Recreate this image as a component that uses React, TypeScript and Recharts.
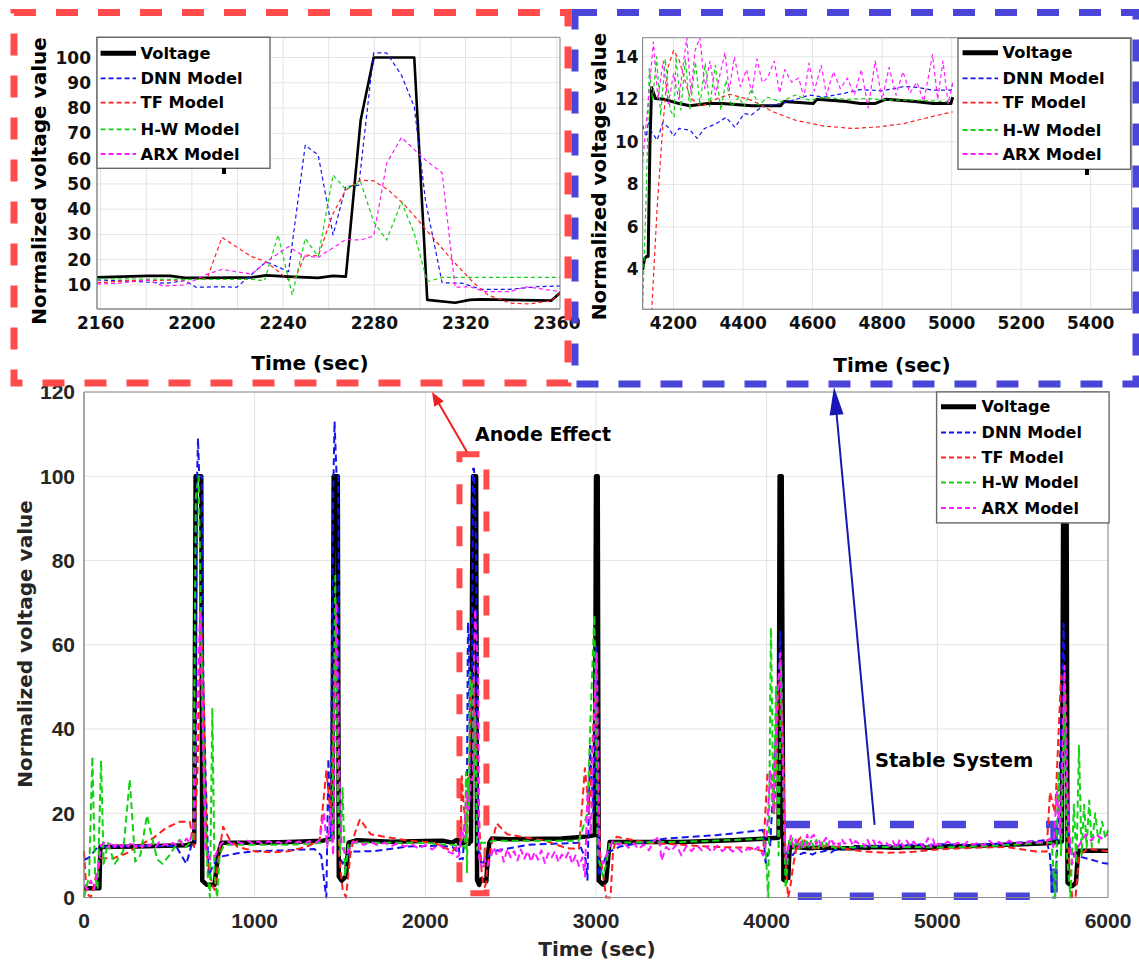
import React from 'react';
import { LineChart, Line, XAxis, YAxis, CartesianGrid, ReferenceArea } from 'recharts';

type P = [number, number];

// ---------- series meta ----------
const seriesNames = ['Voltage', 'DNN Model', 'TF Model', 'H-W Model', 'ARX Model'];
const seriesColors = ['#000000', '#1414ee', '#ff2020', '#12d212', '#ff1cff'];

// ---------- tick labels ----------
const mainXTicks = [0, 1000, 2000, 3000, 4000, 5000, 6000];
const mainYTicks = [0, 20, 40, 60, 80, 100, 120];
const tlXTicks = [2160, 2180, 2200, 2220, 2240, 2260, 2280, 2300, 2320, 2340, 2360];
const tlYTicks = [10, 20, 30, 40, 50, 60, 70, 80, 90, 100];
const trXTicks = [4200, 4400, 4600, 4800, 5000, 5200, 5400];
const trYTicks = [4, 6, 8, 10, 12, 14];

// ---------- top-left inset (anode effect, 2158-2362 s) ----------
const tlVoltage: P[] = [[2158.4,13.0],[2169.4,13.3],[2180.8,13.6],[2190.5,13.6],[2197,12.8],[2206.7,12.8],[2226.2,13.0],[2232.6,13.8],[2242.4,13.3],[2255.4,12.8],[2261.9,13.6],[2267.5,13.3],[2274,75.2],[2279.7,100],[2297.5,100],[2303.2,4.1],[2315.4,3.0],[2321.8,4.1],[2326.7,4.3],[2357.5,3.8],[2361.6,7.0]];
const tlDnn: P[] = [[2158.4,12.0],[2177.5,11.3],[2188.9,10.7],[2197,11.7],[2201.8,9.1],[2213.2,9.3],[2219.7,9.1],[2232.6,19.2],[2242.4,15.3],[2249.7,65.3],[2255.4,61.4],[2261.9,29.8],[2267.5,48.9],[2273.2,49.5],[2279.7,101.8],[2285.4,101.8],[2291.9,93],[2297.5,80.5],[2302.4,43.6],[2309.7,10.9],[2318.6,10.7],[2326.7,8.3],[2339.7,8.3],[2351,9.3],[2361.6,9.6]];
const tlTf: P[] = [[2158.4,10.9],[2172.6,11.7],[2197,12.0],[2206.7,12.6],[2213.2,28.8],[2226.2,21.2],[2232.6,19.2],[2242.4,12.0],[2245.6,13.3],[2249.7,21.9],[2255.4,21.5],[2261.9,38.3],[2267.5,47.6],[2274,51.5],[2279.7,51.2],[2286.1,47.6],[2292.6,42.3],[2299.1,35.7],[2307.2,27.1],[2315.4,18.6],[2323.5,10.9],[2329.9,6.0],[2339.7,2.8],[2347.8,2.5],[2357.5,3.7],[2361.6,7.0]];
const tlHw: P[] = [[2158.4,12.5],[2197,12.2],[2226.2,12.2],[2231.8,11.7],[2237.8,29.8],[2244,6.0],[2249.7,28.4],[2255.4,21.2],[2261.9,53.5],[2267.5,47.8],[2274,50.8],[2279.7,35],[2285.4,27.8],[2291.9,42.9],[2297.5,30.4],[2303.2,11.3],[2309.7,13],[2361.6,13]];
const tlArx: P[] = [[2158.4,10.4],[2167.8,10.7],[2180.8,12.0],[2187.3,9.6],[2197,10],[2206.7,14.3],[2213.2,16.2],[2226.2,14.3],[2232.6,19.2],[2242.4,25.2],[2248.9,21.5],[2255.4,20.9],[2267.5,28],[2274,27.8],[2279.7,29.4],[2285.4,58.1],[2291.9,68.4],[2302.4,59.4],[2309.7,54.4],[2315.4,9.1],[2321.8,9.3],[2328.3,7.4],[2339.7,7.4],[2346.2,9.3],[2361.6,7.4]];

// ---------- top-right inset (stable system, 4111-5003 s) ----------
const trVoltage: P[] = [[4111,3.97],[4116.5,4.5],[4122,4.6],[4127,4.6],[4132,9.8],[4137,12.56],[4148,12.04],[4174,12.0],[4216,11.8],[4247,11.7],[4299,11.8],[4341,11.8],[4424,11.7],[4508,11.7],[4518,11.9],[4602,11.8],[4612,12.0],[4696,11.9],[4737,11.8],[4779,11.8],[4810,12.0],[4894,11.9],[4946,11.8],[4998,11.8],[5003,12.1]];
const trDnn: P[] = [[4111,10.79],[4122,10.24],[4127,10.94],[4137,10.47],[4153,10.08],[4169,10.9],[4184,10.7],[4200,10.27],[4216,10.63],[4247,10.55],[4268,10.16],[4289,10.63],[4320,10.83],[4351,11.15],[4377,10.68],[4403,11.33],[4424,11.26],[4456,11.68],[4487,11.73],[4529,11.88],[4591,12.2],[4633,12.1],[4696,12.3],[4737,12.46],[4800,12.4],[4863,12.6],[4904,12.56],[4946,12.43],[4998,12.43],[5003,12.67]];
const trTf: P[] = [[4137,2.0],[4153,6.95],[4169,10.7],[4184,13.5],[4200,14.3],[4216,13.85],[4247,12.1],[4278,11.65],[4320,12.0],[4362,12.24],[4424,11.96],[4487,11.41],[4550,11.02],[4633,10.74],[4716,10.63],[4789,10.7],[4863,10.86],[4946,11.2],[5003,11.41]];
const trHw: P[] = [[4111,2.1],[4122,7.9],[4130,13.45],[4140,11.96],[4151,14.0],[4163,11.26],[4176,13.9],[4190,11.5],[4202,11.18],[4207,14.0],[4221,11.5],[4234,13.9],[4247,11.5],[4263,13.76],[4276,11.73],[4291,13.69],[4304,11.65],[4320,13.6],[4336,11.5],[4351,12.9],[4367,11.65],[4388,12.1],[4403,11.65],[4424,12.5],[4445,11.73],[4471,12.1],[4508,11.88],[4550,12.2],[4591,11.96],[4633,12.1],[4696,12.0],[4758,12.04],[4821,11.96],[4894,11.96],[4998,11.88]];
const trArx: P[] = [[4111,9.0],[4125,11.5],[4142,14.7],[4155,12.0],[4170,13.8],[4185,11.8],[4200,13.2],[4215,12.0],[4238,14.9],[4250,12.3],[4262,14.3],[4276,14.9],[4290,12.5],[4305,13.8],[4320,12.2],[4348,14.2],[4360,12.4],[4375,14.0],[4392,12.6],[4410,13.4],[4425,12.3],[4440,13.9],[4455,12.8],[4470,13.0],[4490,13.8],[4505,12.3],[4520,13.4],[4540,12.8],[4560,13.0],[4575,12.1],[4590,13.7],[4605,12.4],[4625,13.6],[4640,12.2],[4660,13.3],[4680,12.5],[4700,13.0],[4720,12.2],[4740,13.4],[4760,11.6],[4780,13.8],[4800,12.0],[4820,13.5],[4840,12.2],[4860,13.3],[4880,12.3],[4900,12.8],[4920,11.9],[4945,14.1],[4960,12.0],[4975,13.8],[4990,11.8],[5003,12.8]];

// ---------- main chart, remaining segments ----------
const voltageA: P[] = [[0,2.2],[90,2.2],[96,12],[300,12.1],[600,12.4],[646,13],[654,100],[687,100],[693,4],[720,3],[765,3],[785,10],[805,13],[1000,13],[1200,13.2],[1400,13.5],[1455,14],[1463,100],[1487,100],[1493,5],[1510,4],[1535,5],[1550,13],[1600,13.6],[1800,13.25],[2000,13.4],[2100,13.5]];
const voltageB: P[] = [[2375,13],[2390,14],[2500,13.8],[2800,14],[2950,14.5],[2993,14.8],[3000,100],[3010,100],[3016,4],[3040,3.1],[3060,4],[3080,13.2],[3300,13.2],[3500,13.2],[3800,13.6],[4000,14],[4070,14.2],[4076,100],[4088,100],[4098,4.2]];
const voltageC: P[] = [[5200,12.2],[5400,12.5],[5640,12.9],[5730,13.3],[5738,100],[5757,100],[5763,3.5],[5790,2.7],[5812,3.5],[5825,11.1],[6000,11.1]];

const dnnA: P[] = [[0,8.9],[30,9.5],[80,12],[300,12.2],[540,12.2],[570,10],[600,8],[630,12.5],[650,13],[660,95],[668,109],[675,100],[690,100],[700,50],[712,30],[730,5],[760,8],[800,9.7],[900,10.5],[1000,11],[1200,11.2],[1350,11.5],[1390,10],[1410,3],[1420,0],[1432,33],[1445,14],[1460,95],[1468,113],[1480,100],[1490,100],[1497,10],[1515,8],[1560,10.9],[1700,11],[1900,12.1],[2100,12.3]];
const dnnB: P[] = [[2400,11],[2600,12.5],[2900,13],[2940,9],[2950,4.2],[2965,36],[2985,20],[3000,60],[3015,5],[3060,10],[3082,10.9],[3140,12.1],[3410,14],[3705,14.8],[3978,16],[3994,8.2],[4020,12],[4050,35],[4080,63],[4095,40],[4105,10]];
const dnnC: P[] = [[5200,12.5],[5400,12.8],[5640,13.6],[5660,10],[5675,0],[5690,0],[5705,15],[5725,40],[5740,65],[5755,30],[5775,12],[5800,10],[5835,9.7],[5900,9],[5970,8.2],[6000,8]];

const tfA: P[] = [[0,11],[15,1],[40,0],[70,5],[100,9.3],[170,9.3],[250,10.5],[330,12.5],[405,14.1],[480,16.5],[562,18],[620,18],[645,12],[665,30],[685,67],[700,50],[720,10],[750,3],[765,1.8],[790,10],[815,16.8],[850,14],[900,12],[1000,11],[1100,10.7],[1200,11],[1300,12],[1380,13.5],[1420,30],[1445,20],[1478,62],[1495,10],[1515,2],[1535,0],[1560,10],[1585,15],[1617,18.6],[1680,15],[1750,14.5],[1900,13.5],[2050,13],[2130,11.5]];
const tfB: P[] = [[2390,13],[2418,17.6],[2480,15],[2550,14.5],[2700,13.5],[2830,11.7],[2900,11.5],[2935,30.7],[2960,20],[2995,50],[3025,10],[3060,0],[3085,0],[3100,11],[3120,14.4],[3300,13],[3500,12.5],[3700,12],[3900,11.8],[3980,11],[4005,29.6],[4030,29],[4045,20],[4070,50],[4082,53.5],[4100,30],[4110,10],[4125,0]];
const tfC: P[] = [[5200,11.8],[5400,12],[5580,10.9],[5640,10.9],[5660,25],[5690,20],[5725,52.6],[5750,50],[5770,10],[5790,0],[5810,0],[5830,10],[5880,11.5],[6000,11]];

const hwA: P[] = [[0,0],[30,5],[49,33.5],[65,5],[80,2],[100,32.5],[115,8],[140,13],[180,8],[230,11],[268,28],[300,8.5],[330,10],[369,19.5],[400,14],[430,9],[460,8],[500,10],[560,13.7],[600,12],[640,14],[655,95],[672,100],[688,60],[705,25],[725,5],[738,0],[752,45],[765,5],[780,0],[795,10],[820,12.5],[1000,12.5],[1200,12.5],[1400,13],[1455,14],[1472,77],[1487,25],[1500,10],[1515,26],[1530,5],[1550,13],[1700,13],[2000,13],[2130,12.5]];
const hwB: P[] = [[2400,13.5],[2900,13.5],[2950,20],[2970,45],[2990,67],[3010,10],[3040,5],[3060,8],[3080,13],[3500,13.2],[3900,13.8],[3990,14],[4010,0],[4025,64],[4040,20],[4055,50],[4070,10],[4085,55],[4100,20]];
const hwC: P[] = [[5300,12.2],[5640,13],[5670,13],[5690,0],[5710,30],[5725,10],[5745,50],[5760,10],[5780,0],[5800,22],[5815,8],[5830,36],[5845,10],[5860,22],[5875,12],[5890,23],[5905,12],[5925,20],[5945,13],[5965,18],[5985,14],[6000,16]];

const arxA: P[] = [[0,3],[20,2],[40,4],[60,2],[80,6],[100,12.5],[120,13],[140,11.8],[160,13.2],[180,12],[200,13],[220,11.9],[240,12.9],[260,12.1],[280,13.3],[300,12],[320,12.8],[340,11.9],[360,13],[380,12.2],[400,12.8],[420,12],[440,13.1],[460,12.3],[480,12.7],[500,12.1],[520,13],[540,12.4],[560,13.5],[580,12.5],[600,14],[620,13],[640,17],[660,40],[680,68],[695,40],[710,12],[740,9],[770,10],[790,12],[810,13],[840,13.4],[870,12.6],[900,13.2],[930,12.8],[960,13.5],[990,12.7],[1020,13.3],[1050,12.6],[1080,13.4],[1110,12.8],[1140,13.2],[1170,12.6],[1200,13.5],[1230,12.9],[1260,13.3],[1290,12.7],[1320,13.4],[1350,12.8],[1380,13.6],[1405,20],[1425,12],[1445,21],[1460,10],[1480,70],[1495,30],[1510,12],[1540,10],[1570,13],[1600,13.3],[1640,12.5],[1680,13.2],[1720,12.4],[1760,13],[1800,12.2],[1840,12.9],[1880,12.1],[1920,12.7],[1960,11.6],[2000,12.5],[2040,11.4],[2080,12.6],[2120,11.2]];
const arxB: P[] = [[2380,9],[2400,12],[2420,10],[2440,11.5],[2460,8.5],[2480,11.5],[2500,9.5],[2520,11],[2540,8.8],[2560,11.4],[2580,9.2],[2600,11],[2620,8.5],[2640,10.8],[2660,9],[2680,11.2],[2700,8.2],[2720,10.5],[2740,9.5],[2760,11],[2780,8.4],[2800,10.2],[2820,9.2],[2840,10.8],[2860,8],[2880,10],[2900,7.5],[2920,9.5],[2935,5],[2950,25],[2970,15],[2990,45],[3005,58],[3020,10],[3040,8],[3060,10],[3080,12],[3100,13.5],[3130,12.5],[3160,13.2],[3190,11.8],[3220,12.9],[3250,11.5],[3280,12.6],[3310,11.2],[3340,13.5],[3370,14.4],[3384,8.8],[3410,12],[3440,11],[3470,12.5],[3500,10],[3530,12.2],[3560,11],[3590,12.4],[3620,11.2],[3650,12],[3680,10.8],[3710,12.3],[3740,11],[3770,12],[3800,10.9],[3830,11.8],[3860,10.6],[3890,11.7],[3920,11],[3950,12],[3980,10],[4000,14],[4020,30],[4040,20],[4060,45],[4080,58],[4095,30]];
const arxC: P[] = [[5030,12.2],[5060,13.3],[5090,12.4],[5120,13],[5150,12.2],[5180,13.4],[5210,12.5],[5240,13.1],[5270,12.3],[5300,13.6],[5330,12.6],[5360,13.2],[5390,12.4],[5420,13.5],[5450,12.8],[5480,13.1],[5510,12.6],[5540,13.4],[5570,12.9],[5600,13.2],[5630,13],[5660,14],[5680,12],[5700,25],[5720,15],[5745,55],[5765,20],[5790,8],[5810,11],[5840,13],[5870,15],[5900,13.5],[5930,15],[5960,14],[6000,15]];

const toData = (pts: P[]) => pts.map(([t, v]) => ({ t, v }));

const mainSeries = [
  [...voltageA, ...tlVoltage, ...voltageB, ...trVoltage, ...voltageC],
  [...dnnA, ...tlDnn, ...dnnB, ...trDnn, ...dnnC],
  [...tfA, ...tlTf, ...tfB, ...trTf, ...tfC],
  [...hwA, ...tlHw, ...hwB, ...trHw, ...hwC],
  [...arxA, ...tlArx, ...arxB, ...trArx, ...arxC],
];
const tlSeries = [tlVoltage, tlDnn, tlTf, tlHw, tlArx];
const trSeries = [trVoltage, trDnn, trTf, trHw, trArx];

const BOLD = 'DejaVu Sans, Verdana, sans-serif';
const ARIAL = 'Liberation Sans, Arial, sans-serif';

function seriesLines(series: P[][], vWidth: number, mWidth: number, dash: string) {
  return series.map((s, i) => (
    <Line
      key={seriesNames[i]}
      data={toData(s)}
      dataKey="v"
      name={seriesNames[i]}
      type="linear"
      stroke={seriesColors[i]}
      strokeWidth={i === 0 ? vWidth : mWidth}
      strokeDasharray={i === 0 ? undefined : dash}
      strokeLinejoin="round"
      dot={false}
      activeDot={false}
      isAnimationActive={false}
    />
  ));
}

function LegendBox(props: { x: number; y: number; w: number; h: number; rows: number[]; lx1: number; lx2: number; tx: number; fs: number }) {
  const { x, y, w, h, rows, lx1, lx2, tx, fs } = props;
  return (
    <g>
      <rect x={x} y={y} width={w} height={h} fill="#fff" stroke="#6a6a6a" strokeWidth={1.4} />
      {seriesNames.map((n, i) => (
        <g key={n}>
          <line x1={lx1} x2={lx2} y1={rows[i]} y2={rows[i]} stroke={seriesColors[i]} strokeWidth={i === 0 ? 5 : 1.8} strokeDasharray={i === 0 ? undefined : '5 3'} />
          <text x={tx} y={rows[i]} dominantBaseline="central" fontFamily={BOLD} fontWeight={700} fontSize={fs} fill="#000">{n}</text>
        </g>
      ))}
    </g>
  );
}

function arrowHead(x1: number, y1: number, x2: number, y2: number, len: number, half: number) {
  const dx = x2 - x1, dy = y2 - y1;
  const d = Math.hypot(dx, dy);
  const ux = dx / d, uy = dy / d;
  const bx = x2 - ux * len, by = y2 - uy * len;
  const px = -uy * half, py = ux * half;
  return `${x2},${y2} ${bx + px},${by + py} ${bx - px},${by - py}`;
}

export default function App() {
  const tickMain = { fontFamily: ARIAL, fontWeight: 700, fontSize: 21, fill: '#262626' };
  const tickInset = { fontFamily: BOLD, fontWeight: 700, fontSize: 17, fill: '#111' };
  return (
    <div style={{ position: 'absolute', left: 0, top: 0, width: 1139, height: 966, background: '#fff', overflow: 'hidden' }}>
      {/* top-left inset */}
      <div style={{ position: 'absolute', left: 0, top: 0 }}>
        <LineChart width={580} height={380} margin={{ top: 37.3, right: 20, left: 37, bottom: 41 }}>
          <CartesianGrid stroke="#e4e4e4" />
          <XAxis dataKey="t" type="number" domain={[2158.4, 2361.4]} allowDataOverflow ticks={tlXTicks} interval={0}
            tickFormatter={(v: number) => ((v - 2160) % 40 === 0 ? String(v) : '')}
            height={30} tickLine={false} tickSize={3} tickMargin={5} axisLine={{ stroke: '#8c8c8c' }} tick={tickInset} />
          <YAxis type="number" domain={[0.5, 108]} allowDataOverflow ticks={tlYTicks} interval={0}
            width={60} tickLine={false} tickSize={2} tickMargin={4} axisLine={{ stroke: '#8c8c8c' }} tick={tickInset} />
          <ReferenceArea x1={2158.4} x2={2361.4} y1={0.5} y2={108} fill="none" stroke="#8c8c8c" strokeWidth={1} />
          {seriesLines(tlSeries, 2.6, 1.2, '4 3')}
        </LineChart>
      </div>

      {/* top-right inset */}
      <div style={{ position: 'absolute', left: 580, top: 0 }}>
        <LineChart width={559} height={380} margin={{ top: 37.7, right: 7.3, left: 12.6, bottom: 40.7 }}>
          <CartesianGrid stroke="#e4e4e4" />
          <XAxis dataKey="t" type="number" domain={[4111, 5518]} allowDataOverflow ticks={trXTicks} interval={0}
            height={30} tickLine={false} tickSize={3} tickMargin={5} axisLine={{ stroke: '#8c8c8c' }} tick={tickInset} />
          <YAxis type="number" domain={[2.12, 14.9]} allowDataOverflow ticks={trYTicks} interval={0}
            width={50} tickLine={false} tickSize={1} tickMargin={3} axisLine={{ stroke: '#8c8c8c' }} tick={tickInset} />
          <ReferenceArea x1={4111} x2={5518} y1={2.12} y2={14.9} fill="none" stroke="#8c8c8c" strokeWidth={1} />
          {seriesLines(trSeries, 3, 1.2, '4 3')}
        </LineChart>
      </div>

      {/* main chart */}
      <div style={{ position: 'absolute', left: 0, top: 380 }}>
        <LineChart width={1139} height={586} margin={{ top: 12, right: 31, left: 14, bottom: 38.5 }}>
          <CartesianGrid stroke="#e4e4e4" />
          <XAxis dataKey="t" type="number" domain={[0, 6000]} ticks={mainXTicks} interval={0}
            height={30} tickLine={false} tickSize={6} tickMargin={10} axisLine={{ stroke: '#8c8c8c' }} tick={tickMain} />
          <YAxis type="number" domain={[0, 120]} ticks={mainYTicks} interval={0}
            width={70} tickLine={false} tickSize={4} tickMargin={5} axisLine={{ stroke: '#8c8c8c' }} tick={tickMain} />
          <ReferenceArea x1={0} x2={6000} y1={0} y2={120} fill="none" stroke="#8c8c8c" strokeWidth={1} />
          {seriesLines(mainSeries, 4.5, 2, '7 4')}
          <ReferenceArea x1={2200} x2={2358} y1={1} y2={105.2} fill="none" stroke="#ff4b4b" strokeWidth={6} strokeDasharray="20 22" />
          <ReferenceArea x1={4113} x2={5684} y1={0.3} y2={17.3} fill="none" stroke="#4b44d8" strokeWidth={7.5} strokeDasharray="24 28" />
        </LineChart>
      </div>

      {/* annotation overlay */}
      <svg width={1139} height={966} style={{ position: 'absolute', left: 0, top: 0, pointerEvents: 'none' }}>
        <LegendBox x={97} y={37.3} w={173} h={131} rows={[53.3, 78.3, 102.7, 129.3, 154]} lx1={100.6} lx2={136} tx={140.6} fs={16.3} />
        <LegendBox x={958} y={38.3} w={172.6} h={131} rows={[52.7, 78.3, 102.7, 130, 154]} lx1={962.6} lx2={998} tx={1002.5} fs={16.3} />
        <LegendBox x={936.6} y={391.9} w={172.5} h={131} rows={[406.8, 432.5, 457.5, 482.5, 508]} lx1={941} lx2={976} tx={981.6} fs={16} />
        <rect x={222} y={168} width={4} height={6} fill="#000" />
        <rect x={1085} y={169} width={4} height={6} fill="#000" />

        {/* axis titles */}
        <text transform="translate(38.5,181) rotate(-90)" textAnchor="middle" dominantBaseline="central" fontFamily={BOLD} fontWeight={700} fontSize={20} fill="#000">Normalized voltage value</text>
        <text x={310} y={363} textAnchor="middle" dominantBaseline="central" fontFamily={BOLD} fontWeight={700} fontSize={20} fill="#000">Time (sec)</text>
        <text transform="translate(599,176.5) rotate(-90)" textAnchor="middle" dominantBaseline="central" fontFamily={BOLD} fontWeight={700} fontSize={20} fill="#000">Normalized voltage value</text>
        <text x={892} y={365} textAnchor="middle" dominantBaseline="central" fontFamily={BOLD} fontWeight={700} fontSize={20} fill="#000">Time (sec)</text>
        <text transform="translate(25,644) rotate(-90)" textAnchor="middle" dominantBaseline="central" fontFamily={BOLD} fontWeight={700} fontSize={20} fill="#262626">Normalized voltage value</text>
        <text x={597} y={949} textAnchor="middle" dominantBaseline="central" fontFamily={BOLD} fontWeight={700} fontSize={20} fill="#262626">Time (sec)</text>

        {/* dashed frames */}
        <rect x={14} y={12.5} width={554} height={370.5} fill="none" stroke="#ff4b4b" strokeWidth={7} strokeDasharray="22 20" />
        <rect x={575} y={12.5} width={561} height={371.5} fill="none" stroke="#4b44d8" strokeWidth={7} strokeDasharray="22 20" />

        {/* annotations */}
        <text x={475} y={434} dominantBaseline="central" fontFamily={BOLD} fontWeight={700} fontSize={19} fill="#000">Anode Effect</text>
        <line x1={467} y1={452} x2={438} y2={402} stroke="#ee2020" strokeWidth={2} />
        <polygon points={arrowHead(467, 452, 432, 392, 14, 5.5)} fill="#ee2020" />
        <text x={875} y={760} dominantBaseline="central" fontFamily={BOLD} fontWeight={700} fontSize={19.5} fill="#000">Stable System</text>
        <line x1={874.6} y1={824.8} x2={836.5} y2={413} stroke="#1818b4" strokeWidth={2} />
        <polygon points={arrowHead(874.6, 824.8, 834, 387, 28, 7)} fill="#1818b4" />
      </svg>
    </div>
  );
}
